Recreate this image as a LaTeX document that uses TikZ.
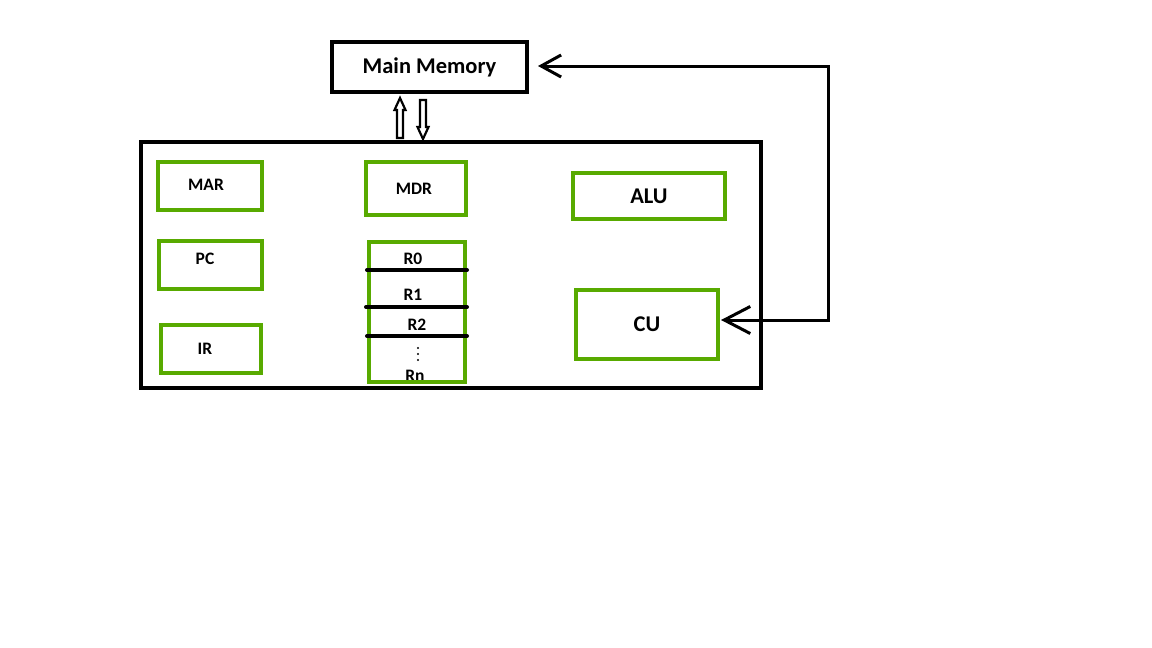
\documentclass[tikz,border=0pt]{standalone}
\usepackage{fontspec}
\setmainfont{Carlito}
\usetikzlibrary{arrows.meta}
\definecolor{grn}{RGB}{88,170,0}
\tikzset{
  gbox/.style={draw=grn, line width=4.2pt, fill=none, inner sep=0pt, font=\bfseries\fontsize{17.5}{20}\selectfont},
  bbox/.style={draw=black, line width=4.5pt, inner sep=0pt},
  reg/.style={draw=black, line width=4pt, line cap=round},
  lbl/.style={font=\bfseries\fontsize{17.5}{20}\selectfont, inner sep=0pt},
  conn/.style={draw=black, line width=3pt},
  hollow/.style={draw=black, line width=2.2pt, fill=white, line join=miter},
  vdot/.style={fill=black}
}
\begin{document}
\begin{tikzpicture}[x=1pt,y=-1pt]
\useasboundingbox (0,0) rectangle (1152,648);
% main memory
\node[bbox, minimum width=195pt, minimum height=50pt, font=\bfseries\fontsize{22.5}{26}\selectfont] (mm) at (429.5,67) {Main Memory};
% CPU
\node[bbox, minimum width=620pt, minimum height=246pt] (cpu) at (451,265) {};
% left registers
\node[gbox, minimum width=104pt, minimum height=48pt] (mar) at (210,186) {};
\node[lbl] at (206,185) {MAR};
\node[gbox, minimum width=103pt, minimum height=48pt] (pc) at (210.5,265) {};
\node[lbl] at (205,259) {PC};
\node[gbox, minimum width=100pt, minimum height=48pt] (ir) at (211,349) {};
\node[lbl] at (205,349) {IR};
% MDR
\node[gbox, minimum width=100pt, minimum height=53pt] (mdr) at (416,188.5) {};
\node[lbl] at (414,189) {MDR};
% register file (labels first so the border covers the foot of Rn)
\node[lbl] at (413,259) {R0};
\node[lbl] at (413,295) {R1};
\node[lbl] at (417,325) {R2};
\fill[vdot] (418,348) circle (1.2);
\fill[vdot] (418,354) circle (1.2);
\fill[vdot] (418,360) circle (1.2);
\node[lbl] at (415,375.5) {Rn};
\node[gbox, minimum width=96pt, minimum height=140pt] (regs) at (417,312) {};
\coordinate (r0a) at (367,270); \coordinate (r0b) at (467,270);
\coordinate (r1a) at (366,307); \coordinate (r1b) at (467,307);
\coordinate (r2a) at (367,336); \coordinate (r2b) at (467,336);
\draw[reg] (r0a) -- (r0b);
\draw[reg] (r1a) -- (r1b);
\draw[reg] (r2a) -- (r2b);
% ALU, CU
\node[gbox, minimum width=152pt, minimum height=46pt, font=\bfseries\fontsize{22.5}{26}\selectfont] (alu) at (649,196) {ALU};
\node[gbox, minimum width=142pt, minimum height=69pt, font=\bfseries\fontsize{22.5}{26}\selectfont] (cu) at (647,324.5) {CU};
% connector CU <-> memory
\coordinate (tr) at (828,66);
\coordinate (br) at (828,320);
\coordinate (mmtip) at (538,66);
\coordinate (cutip) at (721,320);
\draw[conn, {Straight Barb[length=20pt,width=22pt,line width=3pt]}-{Straight Barb[length=26pt,width=27pt,line width=3pt]}] (mmtip) -- (tr) -- (br) -- (cutip);
% hollow arrows between memory and CPU
\draw[hollow] (400,98) -- (405.5,110) -- (403,110) -- (403,138) -- (397,138) -- (397,110) -- (394.5,110) -- cycle;
\draw[hollow] (423,139) -- (428.5,127) -- (426,127) -- (426,100) -- (420,100) -- (420,127) -- (417.5,127) -- cycle;
\end{tikzpicture}
\end{document}
